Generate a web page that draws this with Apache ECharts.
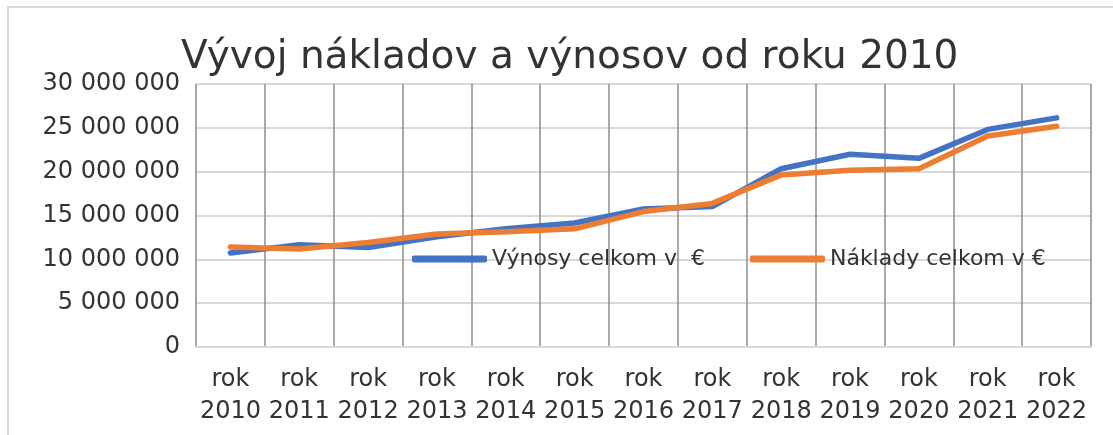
<!DOCTYPE html>
<html>
<head>
<meta charset="utf-8">
<script src="https://cdn.jsdelivr.net/npm/echarts@6/dist/echarts.min.js"></script>
<style>
  html, body { margin: 0; padding: 0; background: #fff; }
  #chart { width: 1113px; height: 435px; }
</style>
</head>
<body>
<div id="chart"></div>
<script>
// údaje odčítané z grafu (v €)
const years = ['rok\n2010', 'rok\n2011', 'rok\n2012', 'rok\n2013', 'rok\n2014', 'rok\n2015', 'rok\n2016',
  'rok\n2017', 'rok\n2018', 'rok\n2019', 'rok\n2020', 'rok\n2021', 'rok\n2022']
const vynosy = [10720000, 11670000, 11360000, 12580000, 13500000, 14150000, 15750000,
  16020000, 20340000, 21980000, 21520000, 24820000, 26140000]
const naklady = [11420000, 11180000, 11920000, 12880000, 13150000, 13480000, 15450000,
  16380000, 19630000, 20160000, 20340000, 24060000, 25190000]
const yTicks = [0, 5000000, 10000000, 15000000, 20000000, 25000000, 30000000]

const textColor = '#333333'
const font = 'DejaVu Sans'

const fmt = v => String(v).replace(/\B(?=(\d{3})+(?!\d))/g, ' ')

const chart = echarts.init(document.getElementById('chart'))
chart.setOption({
  animation: false,
  textStyle: { fontFamily: font },
  title: {
    text: 'Vývoj nákladov a výnosov od roku 2010',
    left: 176,
    top: 33,
    textStyle: { fontFamily: font, fontSize: 39, fontWeight: 'normal', color: textColor },
  },
  graphic: [{
    type: 'rect',
    shape: { x: 8, y: 7, width: 1200, height: 500 },
    style: { fill: 'none', stroke: '#d9d9d9', lineWidth: 2 },
    silent: true,
  }],
  legend: {
    left: 407,
    top: 243,
    itemWidth: 75,
    itemHeight: 7,
    itemGap: 45,
    icon: 'roundRect',
    textStyle: { fontFamily: font, fontSize: 22, color: textColor },
    data: ['Výnosy celkom v  €', 'Náklady celkom v €'],
  },
  grid: { left: 196, right: 22, top: 84, bottom: 88, containLabel: false },
  xAxis: {
    type: 'category',
    data: years,
    boundaryGap: true,
    axisLine: { lineStyle: { color: '#d9d9d9', width: 2 } },
    axisTick: { show: false },
    splitLine: { show: true, lineStyle: { color: '#8c8c8c', width: 1.5 } },
    axisLabel: {
      color: textColor, fontFamily: font, fontSize: 24, lineHeight: 32, margin: 17, interval: 0,
    },
  },
  yAxis: {
    type: 'value',
    min: yTicks[0],
    max: yTicks[yTicks.length - 1],
    interval: yTicks[1] - yTicks[0],
    axisLine: { show: false },
    axisTick: { show: false },
    splitLine: { lineStyle: { color: '#d9d9d9', width: 2 } },
    axisLabel: { color: textColor, fontFamily: font, fontSize: 24, margin: 16, formatter: fmt },
  },
  series: [
    {
      name: 'Výnosy celkom v  €',
      type: 'line',
      data: vynosy,
      symbol: 'none',
      color: '#4472C4',
      lineStyle: { width: 5.5, cap: 'round', join: 'round' },
    },
    {
      name: 'Náklady celkom v €',
      type: 'line',
      data: naklady,
      symbol: 'none',
      color: '#ED7D31',
      lineStyle: { width: 5.5, cap: 'round', join: 'round' },
    },
  ],
})
</script>
</body>
</html>
